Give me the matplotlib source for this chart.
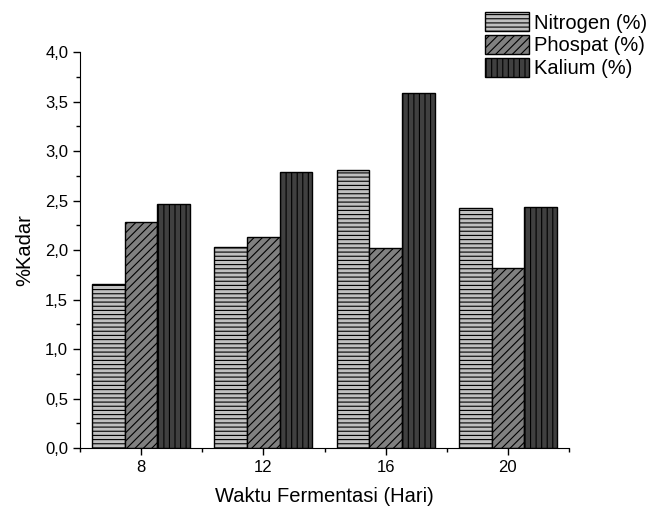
import numpy as np
import matplotlib
matplotlib.use('Agg')
import matplotlib.pyplot as plt
from matplotlib.ticker import MultipleLocator, FuncFormatter

plt.rcParams['font.family'] = ['Liberation Sans', 'DejaVu Sans']
plt.rcParams['hatch.linewidth'] = 0.8

hari = [8, 12, 16, 20]
nitrogen = [1.66, 2.03, 2.81, 2.42]
phospat = [2.28, 2.13, 2.02, 1.82]
kalium = [2.46, 2.79, 3.59, 2.43]

labels = ['Nitrogen (%)', 'Phospat (%)', 'Kalium (%)']
colors = ['#c0c0c0', '#808080', '#404040']
hatches = ['----', '////', '|||']

fig = plt.figure(figsize=(6.49, 5.08), dpi=100)
ax = fig.add_axes([0.1233, 0.1181, 0.7534, 0.7795])

x = np.array(hari, dtype=float)
w = 4 * 0.8 / 3
for k, vals in enumerate([nitrogen, phospat, kalium]):
    ax.bar(x + (k - 1) * w, vals, width=w, color=colors[k], edgecolor='black',
           hatch=hatches[k], linewidth=1.0, label=labels[k])

ax.set_xlim(6, 22)
ax.set_ylim(0, 4.0)
ax.set_xticks(hari)
ax.xaxis.set_minor_locator(MultipleLocator(4, offset=2))
ax.yaxis.set_major_locator(MultipleLocator(0.5))
ax.yaxis.set_minor_locator(MultipleLocator(0.25))
ax.yaxis.set_major_formatter(FuncFormatter(lambda v, p: f'{v:.1f}'.replace('.', ',')))

ax.spines['top'].set_visible(False)
ax.spines['right'].set_visible(False)
ax.tick_params(which='major', direction='out', length=5, width=1, labelsize=12)
ax.tick_params(which='minor', direction='out', length=3, width=1)

ax.set_xlabel('Waktu Fermentasi (Hari)', fontsize=14.5, labelpad=9)
ax.set_ylabel('%Kadar', fontsize=14.5, labelpad=8)

leg = fig.legend(loc='upper left', bbox_to_anchor=(485 / 649, 1 - 12 / 508), frameon=False,
                 fontsize=14.5, handlelength=2.2, handleheight=1.1,
                 labelspacing=0.12, handletextpad=0.25, borderaxespad=0, borderpad=0)

fig.savefig('out.png', dpi=100)
